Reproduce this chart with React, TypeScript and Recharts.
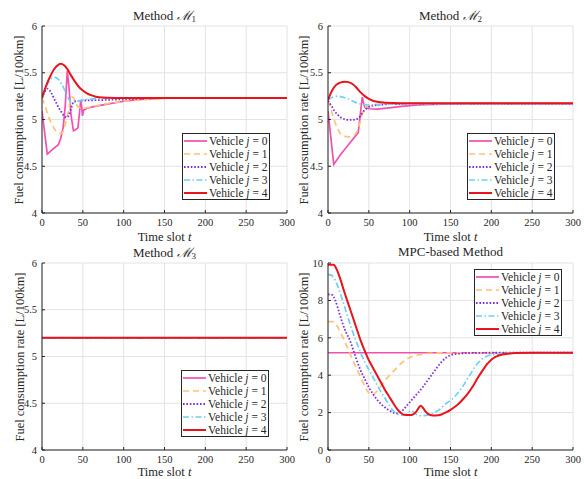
import React from "react";
import { LineChart, Line, XAxis, YAxis, CartesianGrid } from "recharts";

type Pt = [number, number];

const timeTicks = [0, 50, 100, 150, 200, 250, 300];
const rateTicks = [4, 4.5, 5, 5.5, 6];
const mpcTicks = [0, 2, 4, 6, 8, 10];
const vehicleIds = [0, 1, 2, 3, 4];

// Method M1
const m1Vehicle0: Pt[] = [
  [0, 5.09], [6.5, 4.63], [13, 4.68], [20, 4.73], [23, 4.8], [26, 4.92], [28.5, 5.15], [31, 5.52],
  [33, 5.35], [35.5, 5.05], [38.5, 4.88], [41, 4.89], [44, 4.91], [46, 5.08], [47.4, 5.2], [48.5, 5.14],
  [49.5, 5.04], [51, 5.1], [55, 5.12], [65, 5.14], [80, 5.165], [100, 5.195], [115, 5.21], [130, 5.22],
  [160, 5.23], [300, 5.23],
];
const m1Vehicle1: Pt[] = [
  [0, 5.23], [4, 5.14], [8, 5.03], [12, 4.95], [16, 4.89], [20, 4.855], [24, 4.85], [27, 4.9], [30, 5.0],
  [33, 5.12], [36, 5.24], [38, 5.24], [41, 5.18], [45, 5.13], [50, 5.12], [60, 5.135], [80, 5.17],
  [100, 5.195], [130, 5.215], [170, 5.23], [300, 5.23],
];
const m1Vehicle2: Pt[] = [
  [0, 5.23], [3, 5.29], [7, 5.33], [11, 5.29], [15, 5.22], [19, 5.15], [23, 5.09], [27, 5.04], [30, 5.02],
  [33, 5.05], [36, 5.13], [39, 5.19], [45, 5.2], [60, 5.205], [80, 5.21], [110, 5.22], [150, 5.23], [300, 5.23],
];
const m1Vehicle3: Pt[] = [
  [0, 5.23], [4, 5.33], [8, 5.4], [12, 5.44], [16, 5.45], [20, 5.43], [24, 5.38], [28, 5.31], [32, 5.23],
  [36, 5.185], [40, 5.185], [45, 5.2], [55, 5.215], [70, 5.225], [100, 5.23], [300, 5.23],
];
const m1Vehicle4: Pt[] = [
  [0, 5.23], [5, 5.36], [10, 5.46], [15, 5.54], [20, 5.585], [23, 5.595], [27, 5.58], [31, 5.54], [35, 5.48],
  [40, 5.41], [45, 5.35], [50, 5.31], [55, 5.28], [60, 5.26], [65, 5.245], [70, 5.237], [80, 5.232],
  [100, 5.23], [300, 5.23],
];

// Method M2
const m2Vehicle0: Pt[] = [
  [0, 5.09], [7, 4.52], [15, 4.62], [25, 4.73], [37, 4.86], [39.5, 5.05], [42, 5.24], [43.5, 5.18],
  [45, 5.13], [50, 5.115], [60, 5.11], [75, 5.125], [90, 5.14], [110, 5.155], [140, 5.165], [170, 5.17],
  [300, 5.17],
];
const m2Vehicle1: Pt[] = [
  [0, 5.2], [3, 5.13], [6, 5.04], [9, 4.96], [12, 4.9], [16, 4.84], [20, 4.82], [26, 4.815], [32, 4.83],
  [36, 4.88], [39, 4.96], [42, 5.06], [45, 5.12], [50, 5.15], [60, 5.16], [80, 5.165], [100, 5.17], [300, 5.17],
];
const m2Vehicle2: Pt[] = [
  [0, 5.2], [4, 5.15], [8, 5.09], [12, 5.05], [16, 5.02], [22, 5.0], [28, 4.995], [34, 5.0], [38, 5.02],
  [42, 5.07], [46, 5.11], [52, 5.14], [60, 5.155], [80, 5.165], [100, 5.17], [300, 5.17],
];
const m2Vehicle3: Pt[] = [
  [0, 5.21], [6, 5.24], [12, 5.25], [18, 5.24], [25, 5.22], [32, 5.19], [40, 5.165], [48, 5.155],
  [60, 5.16], [80, 5.165], [100, 5.17], [300, 5.17],
];
const m2Vehicle4: Pt[] = [
  [0, 5.21], [5, 5.31], [10, 5.37], [15, 5.395], [20, 5.405], [25, 5.4], [30, 5.38], [35, 5.34], [40, 5.29],
  [45, 5.25], [50, 5.22], [55, 5.2], [60, 5.19], [70, 5.18], [90, 5.175], [300, 5.175],
];

// Method M3
const m3Vehicle0: Pt[] = [[0, 5.2], [300, 5.2]];
const m3Vehicle1: Pt[] = [[0, 5.2], [300, 5.2]];
const m3Vehicle2: Pt[] = [[0, 5.2], [300, 5.2]];
const m3Vehicle3: Pt[] = [[0, 5.2], [300, 5.2]];
const m3Vehicle4: Pt[] = [[0, 5.2], [300, 5.2]];

// MPC-based method
const mpcVehicle0: Pt[] = [[0, 5.2], [300, 5.2]];
const mpcVehicle1: Pt[] = [
  [0, 6.87], [6, 6.87], [10, 6.7], [14, 6.4], [18, 6.05], [22, 5.65], [26, 5.25], [30, 4.85], [35, 4.35],
  [40, 3.9], [45, 3.4], [50, 3.05], [54, 2.95], [58, 3.05], [62, 3.25], [66, 3.5], [70, 3.72], [75, 3.98],
  [80, 4.2], [85, 4.43], [90, 4.65], [95, 4.82], [100, 4.95], [105, 5.03], [110, 5.08], [120, 5.15],
  [130, 5.19], [150, 5.2], [300, 5.2],
];
const mpcVehicle2: Pt[] = [
  [0, 8.32], [5, 8.3], [9, 8.0], [13, 7.45], [18, 6.75], [22, 6.3], [27, 5.85], [32, 5.2], [36, 4.7],
  [40, 4.25], [45, 3.8], [50, 3.35], [55, 3.0], [60, 2.7], [65, 2.45], [70, 2.27], [75, 2.12], [80, 2.0],
  [84, 1.96], [88, 2.02], [92, 2.15], [96, 2.35], [100, 2.55], [105, 2.8], [110, 3.05], [115, 3.3],
  [120, 3.6], [125, 3.9], [130, 4.2], [135, 4.5], [140, 4.75], [145, 4.95], [150, 5.07], [160, 5.15],
  [175, 5.19], [200, 5.2], [300, 5.2],
];
const mpcVehicle3: Pt[] = [
  [0, 9.38], [4, 9.35], [8, 9.15], [12, 8.75], [16, 8.25], [20, 7.7], [25, 7.0], [30, 6.35], [35, 5.75],
  [40, 5.2], [45, 4.7], [50, 4.3], [55, 3.9], [60, 3.5], [65, 3.1], [70, 2.75], [75, 2.4], [80, 2.1],
  [85, 1.93], [90, 1.86], [95, 1.9], [99, 2.05], [102, 2.1], [106, 1.98], [110, 1.87], [115, 1.83],
  [120, 1.85], [125, 1.9], [130, 2.0], [135, 2.12], [140, 2.3], [145, 2.5], [150, 2.65], [155, 2.85],
  [160, 3.1], [165, 3.4], [170, 3.75], [175, 4.1], [180, 4.45], [185, 4.72], [190, 4.92], [195, 5.03],
  [200, 5.08], [210, 5.14], [220, 5.18], [235, 5.2], [300, 5.2],
];
const mpcVehicle4: Pt[] = [
  [0, 9.9], [7, 9.9], [10, 9.72], [15, 9.15], [20, 8.45], [25, 7.8], [30, 7.15], [35, 6.5], [40, 5.85],
  [45, 5.3], [50, 4.8], [55, 4.4], [60, 4.0], [65, 3.6], [70, 3.2], [75, 2.85], [80, 2.5], [85, 2.17],
  [90, 1.95], [95, 1.87], [100, 1.87], [104, 1.9], [108, 2.05], [111, 2.25], [113.5, 2.37], [116, 2.28],
  [119, 2.08], [123, 1.92], [128, 1.85], [135, 1.86], [140, 1.92], [145, 2.02], [150, 2.15], [155, 2.3],
  [160, 2.47], [165, 2.7], [170, 2.95], [175, 3.25], [180, 3.6], [185, 3.97], [190, 4.3], [195, 4.6],
  [200, 4.83], [205, 4.98], [210, 5.07], [220, 5.15], [230, 5.19], [250, 5.2], [300, 5.2],
];

const SERIF = "'Liberation Serif', 'Times New Roman', 'DejaVu Serif', serif";
const INK = "#262626";

const LINE_STYLES = [
  { color: "#f050b0", dash: undefined, width: 1.7 },
  { color: "#ffc27a", dash: "6 4", width: 1.7 },
  { color: "#7d2fe0", dash: "1.6 1.8", width: 1.8 },
  { color: "#6fd0f5", dash: "6 2.5 1.5 2.5", width: 1.7 },
  { color: "#e8141c", dash: undefined, width: 2 },
];

const tickStyle = { fontFamily: SERIF, fontSize: 10.5, fill: INK };

interface PanelProps {
  x: number;
  y: number;
  w: number;
  h: number;
  series: Pt[][];
  domain: [number, number];
  ticks: number[];
  sharp?: boolean;
}

function Panel({ x, y, w, h, series, domain, ticks, sharp }: PanelProps) {
  const padL = 44;
  const padT = 8;
  const padR = 8;
  const padB = 22;
  return (
    <div style={{ position: "absolute", left: x - padL, top: y - padT }}>
      <LineChart
        width={w + padL + padR}
        height={h + padT + padB}
        margin={{ top: padT, right: padR, bottom: 0, left: 0 }}
      >
        <CartesianGrid xAxisId="b" yAxisId="l" stroke="#e3e3e3" strokeWidth={1} />
        <XAxis
          xAxisId="b"
          type="number"
          dataKey="t"
          domain={[0, 300]}
          ticks={timeTicks}
          allowDataOverflow
          height={padB}
          tick={tickStyle}
          tickSize={-3}
          tickMargin={9}
          stroke={INK}
          interval={0}
        />
        <XAxis
          xAxisId="t"
          orientation="top"
          type="number"
          dataKey="t"
          domain={[0, 300]}
          ticks={timeTicks}
          allowDataOverflow
          height={0}
          tick={false}
          tickSize={-3}
          stroke={INK}
        />
        <YAxis
          yAxisId="l"
          type="number"
          domain={domain}
          ticks={ticks}
          allowDataOverflow
          width={padL}
          tick={tickStyle}
          tickSize={-3}
          tickMargin={8}
          stroke={INK}
          interval={0}
        />
        <YAxis
          yAxisId="r"
          orientation="right"
          type="number"
          domain={domain}
          ticks={ticks}
          allowDataOverflow
          width={0}
          tick={false}
          tickSize={-3}
          stroke={INK}
        />
        {series.map((pts, i) => (
          <Line
            key={i}
            xAxisId="b"
            yAxisId="l"
            data={pts.map(([t, v]) => ({ t, v }))}
            dataKey="v"
            type={sharp && i === 0 ? "linear" : "monotone"}
            stroke={LINE_STYLES[i].color}
            strokeWidth={LINE_STYLES[i].width}
            strokeDasharray={LINE_STYLES[i].dash}
            dot={false}
            activeDot={false}
            isAnimationActive={false}
          />
        ))}
      </LineChart>
    </div>
  );
}

function PanelLegend({ x, y }: { x: number; y: number }) {
  return (
    <div
      style={{
        position: "absolute",
        left: x,
        top: y,
        width: 88,
        height: 67,
        boxSizing: "border-box",
        border: `1px solid ${INK}`,
        background: "#fff",
        paddingLeft: 1,
        fontFamily: SERIF,
        fontSize: 11.5,
        color: INK,
      }}
    >
      {vehicleIds.map((j, i) => (
        <div key={j} style={{ display: "flex", alignItems: "center", height: 13, whiteSpace: "nowrap" }}>
          <svg width={23} height={4} style={{ display: "block" }}>
            <line
              x1={0}
              y1={2}
              x2={23}
              y2={2}
              stroke={LINE_STYLES[i].color}
              strokeWidth={LINE_STYLES[i].width}
              strokeDasharray={LINE_STYLES[i].dash}
            />
          </svg>
          <span style={{ marginLeft: 2 }}>
            Vehicle <i>j</i> = {j}
          </span>
        </div>
      ))}
    </div>
  );
}

function Title({ cx, cy, children }: { cx: number; cy: number; children: React.ReactNode }) {
  return (
    <div
      style={{
        position: "absolute",
        left: cx - 100,
        top: cy - 7,
        width: 200,
        height: 14,
        lineHeight: "14px",
        textAlign: "center",
        fontFamily: SERIF,
        fontSize: 13,
        color: INK,
        whiteSpace: "nowrap",
      }}
    >
      {children}
    </div>
  );
}

function MethodName({ n }: { n: number }) {
  return (
    <>
      Method <span style={{ fontStyle: "italic" }}>ℳ</span>
      <sub style={{ fontSize: 9, verticalAlign: "-2px", lineHeight: 0 }}>{n}</sub>
    </>
  );
}

function YLabel({ cx, cy }: { cx: number; cy: number }) {
  return (
    <div
      style={{
        position: "absolute",
        left: cx - 100,
        top: cy - 7,
        width: 200,
        height: 14,
        lineHeight: "14px",
        textAlign: "center",
        fontFamily: SERIF,
        fontSize: 12.5,
        color: INK,
        whiteSpace: "nowrap",
        transform: "rotate(-90deg)",
      }}
    >
      Fuel consumption rate [L/100km]
    </div>
  );
}

function XLabel({ cx, cy }: { cx: number; cy: number }) {
  return (
    <div
      style={{
        position: "absolute",
        left: cx - 60,
        top: cy - 6,
        width: 120,
        height: 12,
        lineHeight: "12px",
        textAlign: "center",
        fontFamily: SERIF,
        fontSize: 12.5,
        color: INK,
        whiteSpace: "nowrap",
      }}
    >
      Time slot <i>t</i>
    </div>
  );
}

export default function App() {
  const pw = 245;
  const ph = 187;
  const lx = 42;
  const rx = 328;
  const ty = 26;
  const by = 263;
  return (
    <div
      style={{
        position: "absolute",
        left: 0,
        top: 0,
        width: 584,
        height: 479,
        background: "#fff",
        overflow: "hidden",
      }}
    >
      <Panel
        x={lx}
        y={ty}
        w={pw}
        h={ph}
        series={[m1Vehicle0, m1Vehicle1, m1Vehicle2, m1Vehicle3, m1Vehicle4]}
        domain={[4, 6]}
        ticks={rateTicks}
        sharp
      />
      <Panel
        x={rx}
        y={ty}
        w={pw}
        h={ph}
        series={[m2Vehicle0, m2Vehicle1, m2Vehicle2, m2Vehicle3, m2Vehicle4]}
        domain={[4, 6]}
        ticks={rateTicks}
        sharp
      />
      <Panel
        x={lx}
        y={by}
        w={pw}
        h={ph}
        series={[m3Vehicle0, m3Vehicle1, m3Vehicle2, m3Vehicle3, m3Vehicle4]}
        domain={[4, 6]}
        ticks={rateTicks}
      />
      <Panel
        x={rx}
        y={by}
        w={pw}
        h={ph}
        series={[mpcVehicle0, mpcVehicle1, mpcVehicle2, mpcVehicle3, mpcVehicle4]}
        domain={[0, 10]}
        ticks={mpcTicks}
      />

      <Title cx={lx + pw / 2} cy={16}>
        <MethodName n={1} />
      </Title>
      <Title cx={rx + pw / 2} cy={16}>
        <MethodName n={2} />
      </Title>
      <Title cx={lx + pw / 2} cy={253}>
        <MethodName n={3} />
      </Title>
      <Title cx={rx + pw / 2} cy={252}>
        MPC-based Method
      </Title>

      <XLabel cx={lx + pw / 2} cy={237} />
      <XLabel cx={rx + pw / 2} cy={237} />
      <XLabel cx={lx + pw / 2} cy={472} />
      <XLabel cx={rx + pw / 2} cy={472} />

      <YLabel cx={19} cy={ty + ph / 2} />
      <YLabel cx={304} cy={ty + ph / 2} />
      <YLabel cx={20} cy={by + ph / 2} />
      <YLabel cx={304} cy={by + ph / 2} />

      <PanelLegend x={182} y={133} />
      <PanelLegend x={467} y={133} />
      <PanelLegend x={181} y={370} />
      <PanelLegend x={474} y={269} />
    </div>
  );
}
